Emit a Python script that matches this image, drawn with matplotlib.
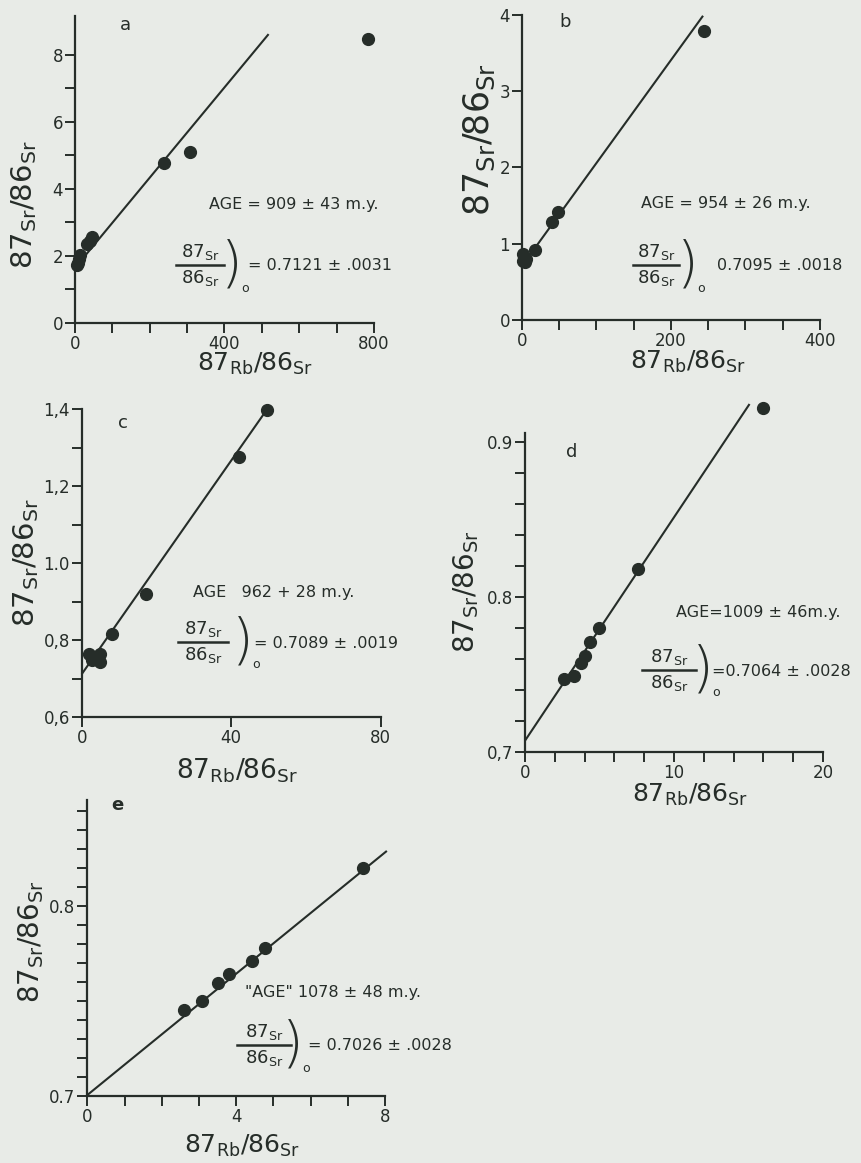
#!/usr/bin/env python3
"""Rb-Sr isochron diagrams, panels a-e"""

import matplotlib
matplotlib.use("Agg")
import matplotlib.pyplot as plt
from matplotlib.lines import Line2D
from matplotlib.ticker import MultipleLocator, FixedLocator, FixedFormatter

BG = "#e8ebe7"
INK = "#262d29"
W, H = 862, 1163

plt.rcParams["font.family"] = ["DejaVu Sans"]
plt.rcParams["mathtext.default"] = "regular"

# panel a
a_rb = [783, 308, 239, 46, 40, 31, 14, 12, 8, 6]
a_sr = [8.46, 5.1, 4.76, 2.55, 2.45, 2.35, 2.02, 1.9, 1.8, 1.72]
a_line_x = [8, 518]
a_line_y = [1.75, 8.61]

# panel b
b_rb = [244, 48, 40, 17, 6, 4, 2, 1]
b_sr = [3.79, 1.42, 1.29, 0.92, 0.80, 0.76, 0.78, 0.86]
b_line_x = [0, 243]
b_line_y = [0.7095, 3.99]

# panel c
c_rb = [49.6, 42.2, 17.1, 8.0, 2.0, 4.9, 2.7, 4.9, 3.6]
c_sr = [1.398, 1.276, 0.92, 0.817, 0.765, 0.765, 0.748, 0.744, 0.757]
c_line_x = [0, 49.6]
c_line_y = [0.712, 1.40]

# panel d
d_rb = [16.0, 7.6, 4.98, 4.35, 4.0, 3.73, 3.28, 2.6]
d_sr = [0.9215, 0.818, 0.78, 0.7705, 0.762, 0.757, 0.749, 0.747]
d_line_x = [0, 15.07]
d_line_y = [0.7071, 0.9243]

# panel e
e_rb = [7.40, 4.78, 4.42, 3.82, 3.52, 3.07, 2.6]
e_sr = [0.8198, 0.778, 0.771, 0.764, 0.7596, 0.750, 0.7453]
e_line_x = [0, 8.05]
e_line_y = [0.7005, 0.829]

YLAB = r"87$_{Sr}$/86$_{Sr}$"
XLAB = r"87$_{Rb}$/86$_{Sr}$"

fig = plt.figure(figsize=(W / 100, H / 100), dpi=100, facecolor=BG)


def px_axes(left, right, top, bottom):
    ax = fig.add_axes([left / W, 1 - bottom / H, (right - left) / W, (bottom - top) / H])
    ax.set_facecolor("none")
    for s in ("top", "right"):
        ax.spines[s].set_visible(False)
    for s in ("left", "bottom"):
        ax.spines[s].set_color(INK)
        ax.spines[s].set_linewidth(1.6)
    ax.tick_params(which="both", direction="out", colors=INK, width=1.4,
                   labelsize=12, labelcolor=INK, pad=1.5, length=7)
    return ax


def ftext(x, y, s, **kw):
    kw.setdefault("color", INK)
    return fig.text(x / W, 1 - y / H, s, **kw)


def ratio_note(xc, ybar, half, paren_x, value_x, value, size=13):
    ftext(xc, ybar - 3, r"87$_{Sr}$", ha="center", va="bottom", fontsize=size)
    ftext(xc, ybar + 3, r"86$_{Sr}$", ha="center", va="top", fontsize=size)
    fig.add_artist(Line2D([(xc - half) / W, (xc + half) / W], [1 - ybar / H, 1 - ybar / H],
                          color=INK, lw=1.8))
    ftext(paren_x, ybar + 1, ")", ha="center", va="center", fontsize=40,
          fontweight="light")
    ftext(paren_x + 13, ybar + 23, "o", ha="center", va="center", fontsize=9)
    ftext(value_x, ybar + 1, value, ha="left", va="center", fontsize=11.5)


def draw(ax, xs, ys, lx, ly):
    ax.plot(lx, ly, color=INK, lw=1.5, clip_on=False, solid_capstyle="butt")
    ax.plot(xs, ys, "o", color=INK, ms=8.5, clip_on=False, zorder=3)


# ---- a ----
ax = px_axes(75, 374, 16, 323)
draw(ax, a_rb, a_sr, a_line_x, a_line_y)
ax.set_xlim(0, 800)
ax.set_ylim(0, 9.15)
ax.set_xticks([0, 400, 800])
ax.xaxis.set_minor_locator(MultipleLocator(100))
ax.set_yticks([0, 2, 4, 6, 8])
ax.yaxis.set_minor_locator(FixedLocator([1, 3, 5, 7]))
ftext(24, 205, YLAB, rotation=90, ha="center", va="center", fontsize=21)
ftext(255, 364, XLAB, ha="center", va="center", fontsize=18)
ftext(125, 25, "a", ha="center", va="center", fontsize=13)
ftext(209, 205, "AGE = 909 ± 43 m.y.", ha="left", va="center", fontsize=11.5)
ratio_note(200, 265, 24, 232, 248, "= 0.7121 ± .0031")

# ---- b ----
ax = px_axes(522, 820, 15, 320)
draw(ax, b_rb, b_sr, b_line_x, b_line_y)
ax.set_xlim(0, 400)
ax.set_ylim(0, 4)
ax.set_xticks([0, 200, 400])
ax.xaxis.set_minor_locator(MultipleLocator(50))
ax.set_yticks([0, 1, 2, 3, 4])
ftext(479, 140, YLAB, rotation=90, ha="center", va="center", fontsize=25)
ftext(688, 362, XLAB, ha="center", va="center", fontsize=18)
ftext(565, 22, "b", ha="center", va="center", fontsize=13)
ftext(641, 204, "AGE = 954 ± 26 m.y.", ha="left", va="center", fontsize=11.5)
ratio_note(656, 265, 23, 688, 717, "0.7095 ± .0018")

# ---- c ----
ax = px_axes(81.7, 380.7, 409.3, 717.3)
draw(ax, c_rb, c_sr, c_line_x, c_line_y)
ax.set_xlim(0, 80)
ax.set_ylim(0.6, 1.4)
ax.set_xticks([0, 40, 80])
ax.yaxis.set_major_locator(FixedLocator([0.6, 0.8, 1.0, 1.2, 1.4]))
ax.yaxis.set_major_formatter(FixedFormatter(["0,6", "0,8", "1.0", "1,2", "1,4"]))
ax.yaxis.set_minor_locator(FixedLocator([0.7, 0.9, 1.1, 1.3]))
ftext(26, 563, YLAB, rotation=90, ha="center", va="center", fontsize=21)
ftext(237, 771, XLAB, ha="center", va="center", fontsize=19)
ftext(123, 423, "c", ha="center", va="center", fontsize=13)
ftext(193, 593, "AGE   962 + 28 m.y.", ha="left", va="center", fontsize=11.5)
ratio_note(203, 642, 25, 243, 254, "= 0.7089 ± .0019")

# ---- d ----
ax = px_axes(525, 823, 433, 751.7)
draw(ax, d_rb, d_sr, d_line_x, d_line_y)
ax.set_xlim(0, 20)
ax.set_ylim(0.7, 0.9056)
ax.set_xticks([0, 10, 20])
ax.xaxis.set_minor_locator(MultipleLocator(2))
ax.yaxis.set_major_locator(FixedLocator([0.7, 0.8, 0.9]))
ax.yaxis.set_major_formatter(FixedFormatter(["0,7", "0.8", "0.9"]))
ax.yaxis.set_minor_locator(FixedLocator([0.72, 0.74, 0.76, 0.78, 0.82, 0.84, 0.86, 0.88]))
ftext(466, 592, YLAB, rotation=90, ha="center", va="center", fontsize=20)
ftext(690, 795, XLAB, ha="center", va="center", fontsize=18)
ftext(572, 452, "d", ha="center", va="center", fontsize=13)
ftext(676, 613, "AGE=1009 ± 46m.y.", ha="left", va="center", fontsize=11.5)
ratio_note(669, 670, 27, 703, 712, "=0.7064 ± .0028", size=13)

# ---- e ----
ax = px_axes(87.3, 385, 800, 1096)
draw(ax, e_rb, e_sr, e_line_x, e_line_y)
ax.set_xlim(0, 8)
ax.set_ylim(0.7, 0.8558)
ax.set_xticks([0, 4, 8])
ax.xaxis.set_minor_locator(MultipleLocator(1))
ax.set_yticks([0.7, 0.8])
ax.yaxis.set_major_formatter(FixedFormatter(["0.7", "0.8"]))
ax.yaxis.set_minor_locator(MultipleLocator(0.01))
ftext(31, 942, YLAB, rotation=90, ha="center", va="center", fontsize=20)
ftext(242, 1146, XLAB, ha="center", va="center", fontsize=18)
ftext(117, 805, "e", ha="center", va="center", fontsize=13, fontweight="bold")
ftext(245, 993, "\"AGE\" 1078 ± 48 m.y.", ha="left", va="center", fontsize=11.5)
ratio_note(264, 1045, 27, 293, 308, "= 0.7026 ± .0028")

fig.savefig("out.png", dpi=100, facecolor=BG)
